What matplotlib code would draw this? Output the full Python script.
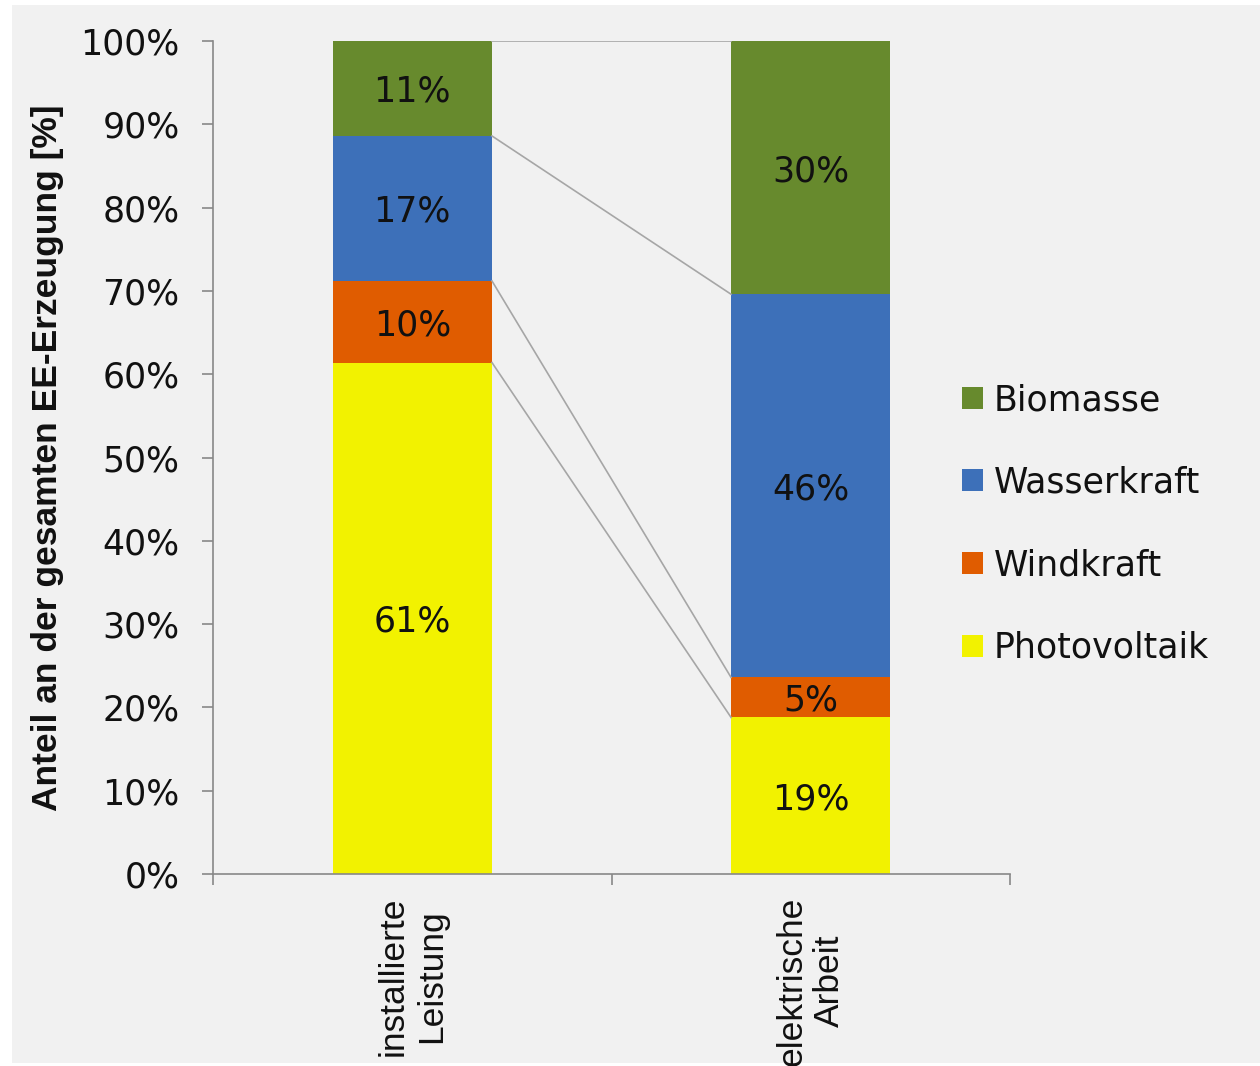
import matplotlib
matplotlib.use("Agg")
import matplotlib.pyplot as plt
from matplotlib.patches import Rectangle
from matplotlib.ticker import FuncFormatter, FixedLocator
import numpy as np

plt.rcParams['font.family'] = ['DejaVu Sans']

categories = ["installierte\nLeistung", "elektrische\nArbeit"]
series_names = ["Photovoltaik", "Windkraft", "Wasserkraft", "Biomasse"]
photovoltaik = [61.4, 18.8]
windkraft = [9.8, 4.8]
wasserkraft = [17.4, 46.0]
biomasse = [11.4, 30.4]
y_ticks = [0, 10, 20, 30, 40, 50, 60, 70, 80, 90, 100]

colors = ["#f2f200", "#e05c00", "#3d70b9", "#678a2d"]
narrow = ['Liberation Sans', 'DejaVu Sans']

fig = plt.figure(figsize=(12.6, 10.66), dpi=100)
fig.patch.set_facecolor("white")
fig.patches.append(Rectangle((12 / 1260, 3 / 1066), 1 - 12 / 1260, 1 - 8 / 1066,
                             transform=fig.transFigure, facecolor="#f1f1f1",
                             edgecolor="none", zorder=-10))

ax = fig.add_axes([213 / 1260, 1 - 874 / 1066, 797 / 1260, 833 / 1066])
ax.set_facecolor("none")

x = np.arange(len(categories))
width = 0.4
data = [photovoltaik, windkraft, wasserkraft, biomasse]
bottom = np.zeros(len(categories))
tops = []
handles = []
for name, vals, col in zip(series_names, data, colors):
    vals = np.array(vals)
    b = ax.bar(x, vals, width, bottom=bottom, color=col, label=name, zorder=2)
    handles.append(b)
    for xi, v, bt in zip(x, vals, bottom):
        ax.text(xi, bt + v / 2, f"{v:.0f}%", ha="center", va="center_baseline",
                fontsize=25, color="#111111", zorder=4)
    bottom = bottom + vals
    tops.append(bottom.copy())

# series connector lines
for t in tops:
    ax.plot([x[0] + width / 2, x[1] - width / 2], [t[0], t[1]],
            color="#a6a6a6", lw=1.2, zorder=3)

ax.set_xlim(-0.5, 1.5)
ax.set_ylim(0, 100)
ax.yaxis.set_major_locator(FixedLocator(y_ticks))
ax.yaxis.set_major_formatter(FuncFormatter(lambda v, p: f"{v:.0f}%"))
ax.tick_params(axis="y", labelsize=25, labelcolor="#111111", length=8,
               width=1.2, color="#888888", direction="out", pad=16)

ax.set_xticks(x)
ax.set_xticklabels(categories, rotation=90, fontsize=25.5, va="top",
                   ha="center", multialignment="center", family=narrow,
                   color="#111111")
ax.tick_params(axis="x", which="major", length=0, pad=16)
ax.xaxis.set_minor_locator(FixedLocator([-0.5, 0.5, 1.5]))
ax.tick_params(axis="x", which="minor", length=8, width=1.2, color="#888888",
               direction="out")

for s in ["top", "right"]:
    ax.spines[s].set_visible(False)
for s in ["left", "bottom"]:
    ax.spines[s].set_color("#888888")
    ax.spines[s].set_linewidth(1.2)

ax.set_ylabel("Anteil an der gesamten EE-Erzeugung [%]", fontsize=25.5,
              fontweight="bold", labelpad=12, family=narrow, color="#111111")

leg = fig.legend(handles[::-1], series_names[::-1], loc="center left",
                 bbox_to_anchor=(931 / 1260, 1 - 524 / 1066), frameon=False,
                 fontsize=25, handlelength=0.6, handleheight=0.6,
                 handletextpad=0.3, labelspacing=1.4)
for t in leg.get_texts():
    t.set_color("#111111")

fig.savefig("out.png", dpi=100, facecolor=fig.get_facecolor())
